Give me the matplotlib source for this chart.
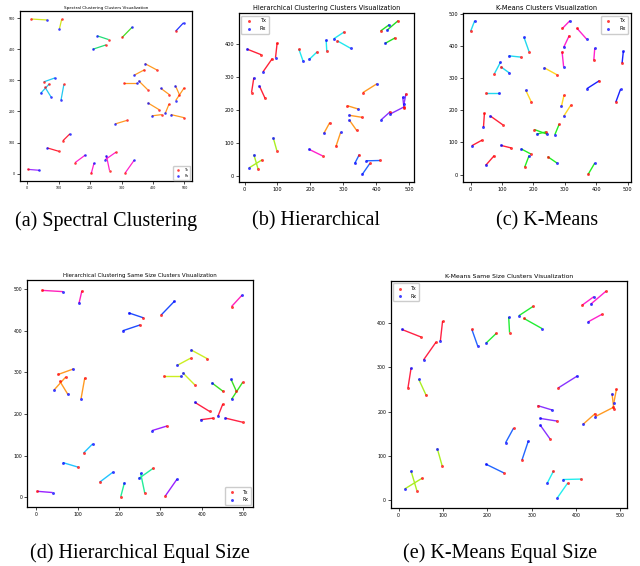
import matplotlib
matplotlib.use('Agg')
import matplotlib.pyplot as plt

# ---------------- Dataset A (Spectral Clustering / Hierarchical Equal Size) ----------------
a_tx_x = [14, 110, 472, 302, 259, 251, 413, 373, 309, 383, 452, 484, 499, 419, 451,
          428, 499, 316, 312, 53, 71, 57, 117, 114, 101, 153, 204, 262, 282, 2]
a_tx_y = [497, 496, 458, 438, 431, 414, 333, 334, 292, 270, 254, 254, 276, 206, 224,
          190, 180, 171, 3, 295, 289, 278, 287, 106, 72, 36, 1, 10, 69, 14]
a_rx_x = [64, 103, 497, 334, 223, 209, 374, 341, 349, 354, 424, 471, 472, 383, 439,
          397, 457, 280, 340, 89, 43, 76, 108, 136, 64, 185, 213, 252, 248, 39]
a_rx_y = [494, 466, 485, 471, 443, 400, 354, 317, 292, 299, 275, 283, 235, 228, 194,
          186, 190, 160, 43, 308, 258, 247, 237, 128, 83, 60, 35, 58, 45, 11]

spectral_colors = ['#d2e61e', '#2233ff', '#44dd22', '#22dd77', '#ff9a22',
                   '#22c8f0', '#ff2238', '#ff22cc', '#a030ff']
spectral_labels = [0, 0, 1, 2, 3, 3, 4, 4, 4, 4, 4, 4, 4, 4, 4,
                   4, 4, 4, 7, 5, 5, 5, 5, 6, 6, 7, 7, 7, 7, 8]

hier_eq_colors = ['#ff22bb', '#1f4cff', '#ccee22', '#3ae022', '#ff2244',
                  '#9a22ff', '#ff9a22', '#22c4ff', '#22ee99']
hier_eq_labels = [0, 0, 0, 1, 1, 1, 2, 2, 2, 2, 3, 3, 3, 4, 4,
                  4, 4, 5, 5, 6, 6, 6, 6, 7, 7, 7, 8, 8, 8, 5]

# ---------------- Dataset B (Hierarchical / K-Means Equal Size) ----------------
b_tx_x = [414, 467, 458, 50, 99, 84, 21, 62, 98, 41, 53, 165, 259, 278, 237,
          220, 250, 303, 282, 360, 313, 357, 341, 443, 484, 485, 491, 349, 412, 381]
b_tx_y = [441, 472, 420, 369, 405, 357, 254, 237, 78, 22, 50, 386, 163, 91, 62,
          377, 379, 438, 411, 254, 214, 179, 139, 196, 210, 207, 251, 66, 48, 39]
b_rx_x = [440, 433, 427, 7, 94, 56, 28, 45, 87, 28, 14, 178, 241, 292, 196,
          197, 248, 271, 323, 403, 346, 319, 319, 416, 443, 481, 485, 335, 370, 358]
b_rx_y = [460, 443, 403, 386, 360, 317, 299, 274, 117, 66, 26, 349, 130, 133, 82,
          355, 414, 417, 388, 281, 204, 185, 170, 172, 189, 241, 220, 39, 47, 6]

hier_colors = ['#22dd22', '#ff2238', '#aaee22', '#22e8ee', '#ff9a22',
               '#ff22cc', '#8833ff', '#2266ff']
hier_labels = [0, 0, 0, 1, 1, 1, 1, 1, 2, 2, 2, 3, 4, 4, 5,
               3, 3, 3, 3, 4, 4, 4, 4, 6, 6, 6, 6, 7, 7, 7]

kmeq_colors = ['#ff22cc', '#ff2244', '#aaee22', '#2266ff', '#22ee33',
               '#8833ff', '#ff9a22', '#22eeee']
kmeq_labels = [0, 0, 0, 1, 1, 1, 1, 2, 2, 2, 2, 3, 3, 3, 3,
               4, 4, 4, 4, 5, 5, 5, 5, 6, 6, 6, 6, 7, 7, 7]

# ---------------- Dataset C (K-Means) ----------------
c_tx_x = [0, 186, 160, 76, 96, 48, 292, 338, 314, 291, 392, 482, 410, 462, 275,
          193, 297, 319, 44, 102, 36, 129, 75, 203, 241, 282, 192, 172, 245, 374]
c_tx_y = [445, 382, 365, 314, 335, 253, 454, 455, 432, 382, 355, 346, 292, 225, 310,
          226, 246, 216, 191, 155, 107, 83, 59, 140, 133, 157, 64, 23, 56, 1]
c_rx_x = [13, 170, 121, 95, 123, 90, 316, 369, 296, 296, 395, 486, 370, 477, 234,
          175, 289, 296, 41, 63, 4, 96, 48, 243, 210, 268, 161, 186, 275, 395]
c_rx_y = [478, 426, 369, 349, 316, 253, 478, 421, 395, 335, 392, 383, 267, 265, 332,
          263, 212, 181, 148, 182, 90, 91, 29, 126, 126, 124, 80, 59, 36, 36]

km_colors = ['#22d8ee', '#ff22cc', '#1a22ff', '#ffd622', '#ff2238', '#22ee22']
km_labels = [0, 0, 0, 0, 0, 0, 1, 1, 1, 1, 1, 2, 2, 2, 3,
             3, 3, 3, 4, 4, 4, 4, 4, 5, 5, 5, 5, 5, 5, 5]

titles = ['Spectral Clustering Clusters Visualization',
          'Hierarchical Clustering Clusters Visualization',
          'K-Means Clusters Visualization',
          'Hierarchical Clustering Same Size Clusters Visualization',
          'K-Means Same Size Clusters Visualization']
captions = ['(a) Spectral Clustering', '(b) Hierarchical', '(c) K-Means',
            '(d) Hierarchical Equal Size', '(e) K-Means Equal Size']


def draw(ax, txx, txy, rxx, rxy, labels, colors, title, fs_title, fs_tick,
         leg_loc, fs_leg, lw, s):
    for i in range(len(txx)):
        ax.plot([txx[i], rxx[i]], [txy[i], rxy[i]], color=colors[labels[i]],
                lw=lw, zorder=1, solid_capstyle='butt')
    ax.scatter(txx, txy, c='red', s=s, label='Tx', zorder=2, alpha=0.75,
               linewidths=0)
    ax.scatter(rxx, rxy, c='blue', s=s, label='Rx', zorder=2, alpha=0.75,
               linewidths=0)
    ax.set_title(title, fontsize=fs_title, pad=2)
    ax.tick_params(labelsize=fs_tick, length=2, width=0.5, pad=1.5)
    for sp in ax.spines.values():
        sp.set_linewidth(0.9)
    ax.legend(loc=leg_loc, fontsize=fs_leg, markerscale=1.0, handletextpad=1.2,
              borderpad=0.5, labelspacing=0.6, framealpha=1.0, edgecolor='#cccccc')


fig = plt.figure(figsize=(6.4, 5.66), dpi=100)

ax_a = fig.add_axes([0.031, 0.680, 0.269, 0.300])
draw(ax_a, a_tx_x, a_tx_y, a_rx_x, a_rx_y, spectral_labels, spectral_colors,
     titles[0], 3.0, 2.3, 'lower right', 2.3, 0.9, 3.5)

ax_b = fig.add_axes([0.3734, 0.6784, 0.2734, 0.2986])
draw(ax_b, b_tx_x, b_tx_y, b_rx_x, b_rx_y, hier_labels, hier_colors,
     titles[1], 4.7, 3.6, 'upper left', 3.6, 1.0, 4.5)

ax_c = fig.add_axes([0.7234, 0.6784, 0.2625, 0.2986])
draw(ax_c, c_tx_x, c_tx_y, c_rx_x, c_rx_y, km_labels, km_colors,
     titles[2], 4.8, 3.6, 'upper right', 3.6, 1.0, 4.5)

ax_d = fig.add_axes([0.0422, 0.1042, 0.353, 0.401])
draw(ax_d, a_tx_x, a_tx_y, a_rx_x, a_rx_y, hier_eq_labels, hier_eq_colors,
     titles[3], 4.0, 3.3, 'lower right', 3.3, 1.0, 4.5)

ax_e = fig.add_axes([0.611, 0.1025, 0.369, 0.401])
draw(ax_e, b_tx_x, b_tx_y, b_rx_x, b_rx_y, kmeq_labels, kmeq_colors,
     titles[4], 4.4, 3.4, 'upper left', 3.4, 1.0, 4.5)

cap_font = dict(family=['Liberation Serif', 'DejaVu Serif'], fontsize=14.5,
                ha='center', va='center')
fig.text(106 / 640, 1 - 221 / 566, captions[0], **cap_font)
fig.text(316 / 640, 1 - 221 / 566, captions[1], **cap_font)
fig.text(547 / 640, 1 - 221 / 566, captions[2], **cap_font)
fig.text(140 / 640, 1 - 553 / 566, captions[3], **cap_font)
fig.text(500 / 640, 1 - 553 / 566, captions[4], **cap_font)

fig.savefig('out.png', dpi=100)
